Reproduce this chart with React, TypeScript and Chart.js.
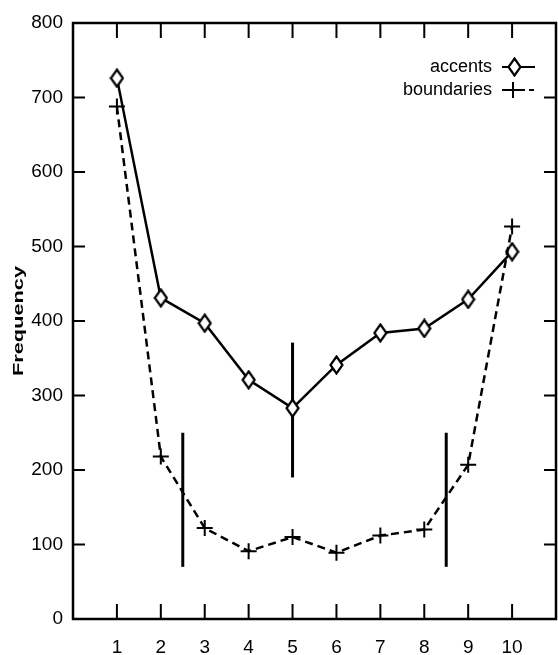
import React, { useEffect, useRef } from "react";
import { Chart, registerables } from "chart.js";

Chart.register(...registerables);

const positions = [1, 2, 3, 4, 5, 6, 7, 8, 9, 10];
const accents = [726, 431, 397, 321, 283, 341, 384, 390, 429, 493];
const boundaries = [688, 218, 122, 91, 110, 89, 112, 120, 207, 527];
const dividerX = [2.5, 5, 8.5];
const dividerLow = [70, 190, 70];
const dividerHigh = [250, 371, 250];
const legendLabels = ["accents", "boundaries"];
const yTicks = [0, 100, 200, 300, 400, 500, 600, 700, 800];
const yTitle = "Frequency";

const FONT = "'Liberation Sans', Arial, sans-serif";

function makeDiamond(): HTMLCanvasElement {
  const c = document.createElement("canvas");
  c.width = 15;
  c.height = 20;
  const g = c.getContext("2d")!;
  g.fillStyle = "#fff";
  g.strokeStyle = "#000";
  g.lineWidth = 2.2;
  g.beginPath();
  g.moveTo(7.5, 1.5);
  g.lineTo(13.5, 10);
  g.lineTo(7.5, 18.5);
  g.lineTo(1.5, 10);
  g.closePath();
  g.fill();
  g.stroke();
  return c;
}

export default function App() {
  const ref = useRef<HTMLCanvasElement>(null);
  useEffect(() => {
    document.body.style.margin = "0";
    const diamond = makeDiamond();
    const frame = {
      id: "frame",
      afterDatasetsDraw(chart: any) {
        const { ctx, chartArea: a, scales } = chart;
        const xs = scales.x;
        const ys = scales.y;
        ctx.save();
        ctx.strokeStyle = "#000";
        ctx.lineWidth = 2;
        ctx.beginPath();
        for (const p of positions) {
          const px = xs.getPixelForValue(p);
          ctx.moveTo(px, a.bottom);
          ctx.lineTo(px, a.bottom - 15);
          ctx.moveTo(px, a.top);
          ctx.lineTo(px, a.top + 15);
        }
        for (const t of yTicks) {
          const py = ys.getPixelForValue(t);
          ctx.moveTo(a.left, py);
          ctx.lineTo(a.left + 12, py);
          ctx.moveTo(a.right, py);
          ctx.lineTo(a.right - 12, py);
        }
        ctx.stroke();
        ctx.lineWidth = 2.5;
        ctx.strokeRect(a.left, a.top, a.right - a.left, a.bottom - a.top);
        // y title, stretched along its length
        ctx.fillStyle = "#000";
        ctx.save();
        ctx.translate(19, (a.top + a.bottom) / 2);
        ctx.rotate(-Math.PI / 2);
        ctx.scale(1.45, 1);
        ctx.font = `bold 15px ${FONT}`;
        ctx.textAlign = "center";
        ctx.textBaseline = "middle";
        ctx.fillText(yTitle, 0, 0);
        ctx.restore();
        // legend
        ctx.font = `18px ${FONT}`;
        ctx.textAlign = "right";
        ctx.textBaseline = "middle";
        const tx = a.right - 64;
        const rows = [a.top + 44, a.top + 67];
        ctx.fillText(legendLabels[0], tx, rows[0]);
        ctx.fillText(legendLabels[1], tx, rows[1]);
        ctx.lineWidth = 2;
        ctx.beginPath();
        ctx.moveTo(a.right - 54, rows[0]);
        ctx.lineTo(a.right - 21, rows[0]);
        ctx.stroke();
        ctx.drawImage(diamond, a.right - 49, rows[0] - 10);
        ctx.setLineDash([5, 4]);
        ctx.beginPath();
        ctx.moveTo(a.right - 54, rows[1]);
        ctx.lineTo(a.right - 21, rows[1]);
        ctx.stroke();
        ctx.setLineDash([]);
        ctx.beginPath();
        ctx.moveTo(a.right - 43, rows[1] - 8);
        ctx.lineTo(a.right - 43, rows[1] + 8);
        ctx.moveTo(a.right - 51, rows[1]);
        ctx.lineTo(a.right - 35, rows[1]);
        ctx.stroke();
        ctx.restore();
      },
    };
    const dividerSets = dividerX.map((x, i) => ({
      label: "divider" + i,
      data: [
        { x, y: dividerLow[i] },
        { x, y: dividerHigh[i] },
      ],
      borderColor: "#000",
      borderWidth: 3,
      pointRadius: 0,
      showLine: true,
    }));
    const chart = new Chart(ref.current!, {
      type: "scatter",
      data: {
        datasets: [
          {
            label: legendLabels[1],
            data: positions.map((p, i) => ({ x: p, y: boundaries[i] })),
            borderColor: "#000",
            backgroundColor: "#000",
            borderWidth: 2.5,
            borderDash: [8, 5],
            showLine: true,
            pointStyle: "cross",
            pointRadius: 8,
            pointBorderWidth: 2,
          },
          {
            label: legendLabels[0],
            data: positions.map((p, i) => ({ x: p, y: accents[i] })),
            borderColor: "#000",
            backgroundColor: "#fff",
            borderWidth: 2.5,
            showLine: true,
            pointStyle: diamond as any,
            pointRadius: 8,
          },
          ...dividerSets,
        ] as any,
      },
      options: {
        animation: false,
        responsive: false,
        devicePixelRatio: 1,
        layout: { autoPadding: false, padding: { top: 23, right: 2, left: 0, bottom: 0 } },
        plugins: { legend: { display: false }, tooltip: { enabled: false } },
        scales: {
          x: {
            type: "linear",
            min: 0,
            max: 11,
            grid: { display: false },
            border: { display: false },
            afterFit(s: any) {
              s.height = 36;
              s.paddingLeft = 0;
              s.paddingRight = 0;
            },
            ticks: {
              stepSize: 1,
              autoSkip: false,
              maxRotation: 0,
              padding: 9,
              color: "#000",
              font: { family: FONT, size: 19 },
              callback: (v: any) => (positions.includes(v) ? String(v) : ""),
            },
          },
          y: {
            min: 0,
            max: 800,
            grid: { display: false, drawTicks: false },
            border: { display: false },
            afterFit(s: any) {
              s.width = 73;
              s.paddingTop = 0;
              s.paddingBottom = 0;
            },
            ticks: {
              stepSize: 100,
              padding: 10,
              color: "#000",
              font: { family: FONT, size: 19 },
            },
          },
        },
      },
      plugins: [frame],
    });
    return () => chart.destroy();
  }, []);
  return <canvas ref={ref} width={558} height={655} style={{ display: "block" }} />;
}
